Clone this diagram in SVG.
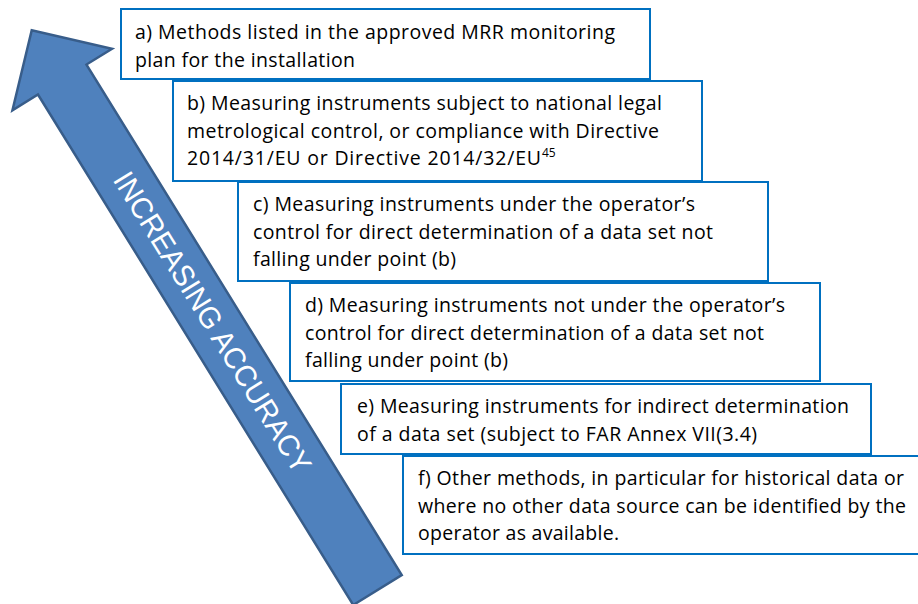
<svg xmlns="http://www.w3.org/2000/svg" width="918" height="604" viewBox="0 0 918 604">
<style>
.box{fill:#ffffff;stroke:#0070C0;stroke-width:2}
.t{font-family:"Open Sans","Liberation Sans",Arial,sans-serif;font-size:19.5px;fill:#000000}
.sup{font-family:"Open Sans","Liberation Sans",Arial,sans-serif;font-size:12px;fill:#000000}
.arrow{fill:#4F81BD;stroke:#385D8A;stroke-width:2.5;stroke-linejoin:miter}
.at{font-family:"Liberation Sans",Arial,sans-serif;font-size:30px;fill:#ffffff}
</style>
<rect width="918" height="604" fill="#ffffff"/>
<g id="connectors">
<g id="accuracy-arrow">
<polygon class="arrow" transform="translate(377.5,590) rotate(-121.7)" points="0,-28.5 600,-28.5 600,-58.5 658,0 600,58.5 600,28.5 0,28.5"/>
<text class="at" transform="translate(213,322) rotate(58.3)" x="0" y="0" dy="0.36em" text-anchor="middle" textLength="348" lengthAdjust="spacingAndGlyphs">INCREASING ACCURACY</text>
</g>
</g>
<g id="box-a">
<rect class="box" x="121" y="9" width="529" height="70"/>
<text class="t" x="135" y="39" textLength="480" lengthAdjust="spacing">a) Methods listed in the approved MRR monitoring</text>
<text class="t" x="135" y="66.5" textLength="220" lengthAdjust="spacing">plan for the installation</text>
</g>
<g id="box-b">
<rect class="box" x="173" y="81" width="529" height="100"/>
<text class="t" x="187" y="110" textLength="475" lengthAdjust="spacing">b) Measuring instruments subject to national legal</text>
<text class="t" x="187" y="137.5" textLength="472" lengthAdjust="spacing">metrological control, or compliance with Directive</text>
<text class="t" x="187" y="165" textLength="354" lengthAdjust="spacing">2014/31/EU or Directive 2014/32/EU</text>
<text class="sup" x="542" y="157" textLength="13.5" lengthAdjust="spacing">45</text>
</g>
<g id="box-c">
<rect class="box" x="238" y="182" width="530" height="99"/>
<text class="t" x="253" y="211" textLength="442" lengthAdjust="spacing">c) Measuring instruments under the operator’s</text>
<text class="t" x="253" y="238.5" textLength="460" lengthAdjust="spacing">control for direct determination of a data set not</text>
<text class="t" x="253" y="266" textLength="203" lengthAdjust="spacing">falling under point (b)</text>
</g>
<g id="box-d">
<rect class="box" x="290" y="283" width="530" height="98"/>
<text class="t" x="305" y="312" textLength="480" lengthAdjust="spacing">d) Measuring instruments not under the operator’s</text>
<text class="t" x="305" y="339.5" textLength="459" lengthAdjust="spacing">control for direct determination of a data set not</text>
<text class="t" x="305" y="367" textLength="203" lengthAdjust="spacing">falling under point (b)</text>
</g>
<g id="box-e">
<rect class="box" x="341" y="384" width="530" height="70"/>
<text class="t" x="357" y="413" textLength="492" lengthAdjust="spacing">e) Measuring instruments for indirect determination</text>
<text class="t" x="357" y="440.5" textLength="400" lengthAdjust="spacing">of a data set (subject to FAR Annex VII(3.4)</text>
</g>
<g id="box-f">
<rect class="box" x="403" y="456" width="520" height="98"/>
<text class="t" x="418" y="485" textLength="486" lengthAdjust="spacing">f) Other methods, in particular for historical data or</text>
<text class="t" x="418" y="512.5" textLength="488" lengthAdjust="spacing">where no other data source can be identified by the</text>
<text class="t" x="418" y="540" textLength="201" lengthAdjust="spacing">operator as available.</text>
</g>
</svg>
